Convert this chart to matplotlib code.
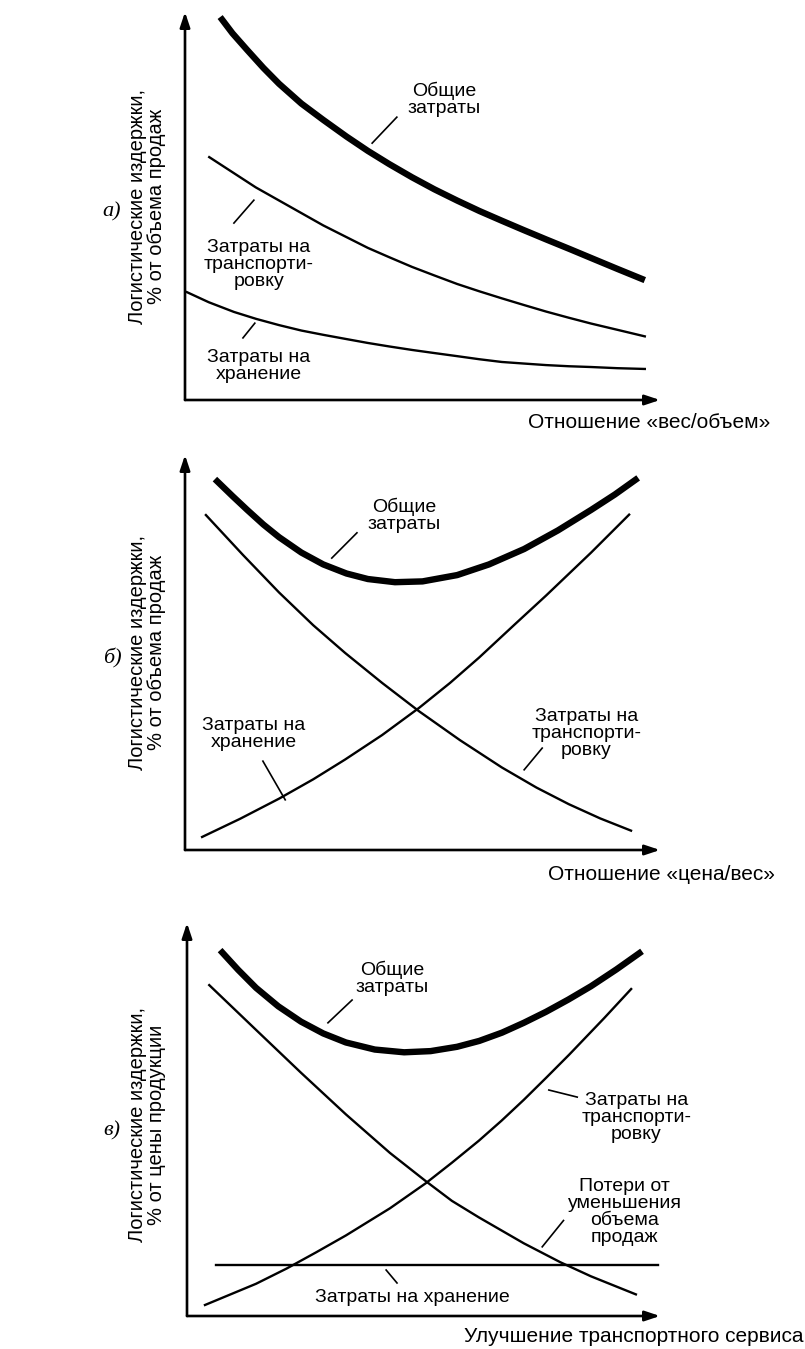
import matplotlib
matplotlib.use("Agg")
import matplotlib.pyplot as plt

plt.rcParams['font.family'] = ['Liberation Sans Narrow', 'Liberation Sans', 'DejaVu Sans']

W, H = 805, 1349

# --- панель а) : отношение вес/объем ---
a_total_x = [7.4, 10, 13.1, 16.5, 19.8, 24.5, 29.1, 34, 38.5, 43, 47.8, 52.5, 57.3, 62, 66.7,
             71.3, 76, 81, 85.5, 91, 96.8]
a_total_y = [98.7, 94.5, 90.2, 85.6, 81.5, 76.4, 72.2, 67.9, 64.2, 60.8, 57.4, 54.3, 51.4, 48.7,
             46.2, 43.8, 41.4, 38.9, 36.6, 33.8, 30.9]
a_trans_x = [5.1, 10, 14.9, 22, 29.1, 33.8, 38.5, 43, 47.8, 52.5, 57.3, 62, 66.7, 71.3, 76,
             80.8, 85.5, 91, 96.8]
a_trans_y = [62.6, 58.7, 54.8, 49.9, 45.0, 42.1, 39.2, 36.8, 34.3, 32.1, 29.9, 28.0, 26.2, 24.5,
             22.8, 21.2, 19.7, 18.1, 16.4]
a_store_x = [0.4, 5, 10.3, 15, 19.8, 24.5, 29.1, 34, 38.5, 43, 47.8, 52.5, 57.3, 62, 66.7, 71.3,
             76, 80.8, 85.5, 91, 96.8]
a_store_y = [27.8, 25.2, 22.7, 20.9, 19.3, 17.9, 16.8, 15.7, 14.7, 13.8, 12.9, 12.1, 11.3, 10.5,
             9.8, 9.4, 9.0, 8.7, 8.5, 8.2, 8.0]

# --- панель б) : отношение цена/вес ---
b_total_x = [6.3, 10, 13.1, 16.5, 19.8, 24.5, 29.1, 34, 38.5, 44.2, 50, 57.3, 64, 71.4, 78.5,
             85.5, 90.5, 95.4]
b_total_y = [93.9, 89.6, 86.1, 82.4, 79.2, 75.3, 72.3, 70.0, 68.6, 67.8, 68.0, 69.6, 72.3, 76.2,
             80.9, 86.1, 90.0, 94.2]
b_trans_x = [4.4, 12.2, 19.8, 27, 33.7, 41.5, 49.3, 57.9, 66.7, 74, 80.8, 87.4, 93.9]
b_trans_y = [84.8, 74.7, 65.2, 56.9, 49.9, 42.3, 35.1, 27.8, 20.9, 15.8, 11.6, 8.0, 4.9]
b_store_x = [3.6, 11.6, 19.8, 27, 33.7, 41.5, 49.3, 55.8, 61.9, 69.5, 76, 85.5, 93.5]
b_store_y = [3.3, 7.9, 13.0, 17.9, 22.9, 29.1, 36.0, 42.3, 48.7, 57.2, 64.4, 75.3, 84.9]

# --- панель в) : улучшение транспортного сервиса ---
c_total_x = [7, 10.8, 14.6, 19.3, 24.1, 28.8, 33.6, 39.7, 45.9, 51.5, 57.1, 61.8, 66.6, 71.2,
             75.9, 80.6, 85.4, 90.8, 96.2]
c_total_y = [93.1, 88.1, 83.5, 78.8, 74.9, 71.9, 69.6, 67.8, 67.1, 67.4, 68.5, 70.0, 72.1, 74.6,
             77.4, 80.5, 83.9, 88.2, 92.8]
c_down_x = [4.7, 14.6, 24.1, 33.6, 42.9, 50.5, 56, 61.7, 71.2, 78.9, 85.4, 94.9]
c_down_y = [84.2, 72.8, 61.9, 51.3, 41.5, 34.3, 29.3, 25.1, 18.5, 13.7, 10.1, 5.5]
c_up_x = [3.8, 14.6, 21.1, 27.3, 33.6, 42.9, 50.5, 56, 61.7, 66.5, 71.2, 76, 80.8, 88.2, 93.9]
c_up_y = [2.8, 8.2, 12.1, 16.2, 20.5, 27.4, 33.8, 39.0, 44.6, 49.7, 55.0, 60.7, 66.5, 75.8, 83.2]
c_flat_x = [6.1, 99.6]
c_flat_y = [13.0, 13.0]

lbl_total = "Общие\nзатраты"
lbl_trans = "Затраты на\nтранспорти-\nровку"
lbl_store = "Затраты на\nхранение"
lbl_loss = "Потери от\nуменьшения\nобъема\nпродаж"
lbl_store_one = "Затраты на хранение"

ylabel_sales = "Логистические издержки,\n% от объема продаж"
ylabel_price = "Логистические издержки,\n% от цены продукции"


def make_axes(fig, left, right, top, bottom):
    ax = fig.add_axes([left / W, 1 - bottom / H, (right - left) / W, (bottom - top) / H])
    ax.set_xlim(0, 100)
    ax.set_ylim(0, 100)
    for s in ax.spines.values():
        s.set_visible(False)
    ax.set_xticks([])
    ax.set_yticks([])
    ax.patch.set_alpha(0)
    arrow = dict(arrowstyle='-|>,head_length=0.9,head_width=0.3', lw=1.9, color='black',
                 shrinkA=0, shrinkB=0)
    ax.annotate('', xy=(1.0, 0), xytext=(0, 0), xycoords='axes fraction', arrowprops=arrow)
    ax.annotate('', xy=(0, 1.0), xytext=(0, 0), xycoords='axes fraction', arrowprops=arrow)
    return ax


def leader(ax, p0, p1):
    ax.plot([p0[0], p1[0]], [p0[1], p1[1]], color='black', lw=1.2)


def label(ax, x, y, text):
    ax.text(x, y, text, ha='center', va='center', fontsize=14, linespacing=1.0)


def ftext(fig, x, y, text, **kw):
    fig.text(x / W, 1 - y / H, text, **kw)


def side_texts(fig, ymid, ylab, letter):
    ftext(fig, 147, ymid, ylab, ha='center', va='center', rotation=90, fontsize=14.5,
          linespacing=1.05)
    ftext(fig, 112, ymid + 6, letter, ha='center', va='center', fontsize=16, style='italic',
          family=['Liberation Serif', 'DejaVu Serif'])


fig = plt.figure(figsize=(W / 100, H / 100), dpi=100)
fig.patch.set_facecolor('white')

thin = dict(color='black', lw=1.7)
thick = dict(color='black', lw=4.6, solid_capstyle='butt')

# а)
ax = make_axes(fig, 185, 660, 12, 400)
ax.plot(a_total_x, a_total_y, **thick)
ax.plot(a_trans_x, a_trans_y, **thin)
ax.plot(a_store_x, a_store_y, **thin)
label(ax, 54.5, 77.6, lbl_total)
leader(ax, (39.4, 66.2), (44.6, 72.9))
label(ax, 15.6, 34.8, lbl_trans)
leader(ax, (10.3, 45.6), (14.5, 51.5))
label(ax, 15.6, 8.8, lbl_store)
leader(ax, (12.2, 16.0), (14.7, 19.8))
ftext(fig, 770, 423, "Отношение «вес/объем»", ha='right', va='center', fontsize=15)
side_texts(fig, 206, ylabel_sales, "а)")

# б)
ax = make_axes(fig, 185, 660, 455, 850)
ax.plot(b_total_x, b_total_y, **thick)
ax.plot(b_trans_x, b_trans_y, **thin)
ax.plot(b_store_x, b_store_y, **thin)
label(ax, 46.1, 84.6, lbl_total)
leader(ax, (30.9, 73.9), (36.2, 80.3))
label(ax, 14.5, 29.4, lbl_store)
leader(ax, (21.1, 12.7), (16.4, 22.5))
label(ax, 84.5, 29.6, lbl_trans)
leader(ax, (71.4, 20.3), (75.2, 25.8))
ftext(fig, 775, 875, "Отношение «цена/вес»", ha='right', va='center', fontsize=15)
side_texts(fig, 652, ylabel_sales, "б)")

# в)
ax = make_axes(fig, 187, 660, 923, 1316)
ax.plot(c_total_x, c_total_y, **thick)
ax.plot(c_down_x, c_down_y, **thin)
ax.plot(c_up_x, c_up_y, **thin)
ax.plot(c_flat_x, c_flat_y, **thin)
label(ax, 43.3, 86.0, lbl_total)
leader(ax, (29.8, 74.6), (34.9, 80.4))
label(ax, 95.0, 50.5, lbl_trans)
leader(ax, (76.5, 57.5), (82.5, 55.7))
label(ax, 92.5, 26.5, lbl_loss)
leader(ax, (75.1, 17.6), (79.6, 24.3))
label(ax, 47.6, 4.8, lbl_store_one)
leader(ax, (42.1, 11.7), (44.4, 8.4))
ftext(fig, 803, 1337, "Улучшение транспортного сервиса", ha='right', va='center', fontsize=15)
side_texts(fig, 1125, ylabel_price, "в)")

fig.savefig("out.png", dpi=100, facecolor='white')
